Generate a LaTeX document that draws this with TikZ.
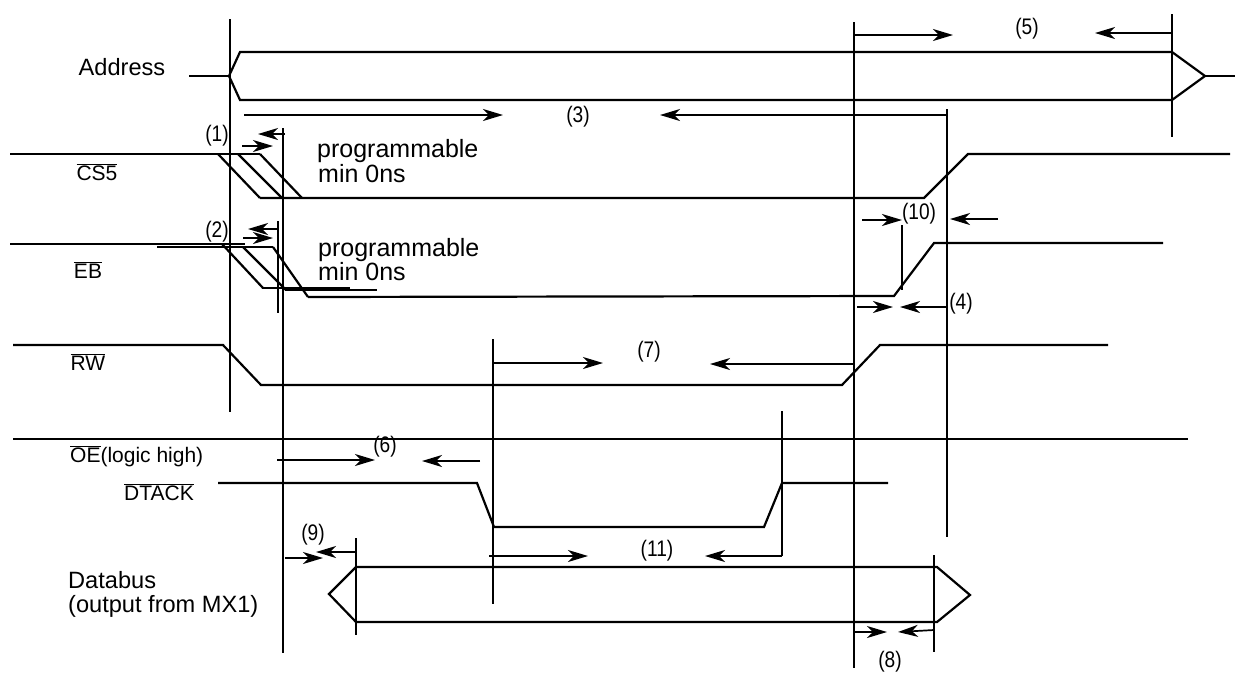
\documentclass[tikz,border=0pt]{standalone}
\usepackage{fontspec}
\setmainfont{Liberation Sans}
\usetikzlibrary{arrows.meta}
\newcommand\ovl[1]{$\overline{\hbox{#1}}$}
\newcommand\nrw[1]{\scalebox{0.85}[1]{#1}}
\begin{document}
\begin{tikzpicture}[x=1pt,y=-1pt,
 sig/.style={line width=2.2pt, line join=miter},
 dimline/.style={line width=1.7pt},
 arr/.style={dimline,-{Stealth[length=20pt,width=12pt,inset=6pt]}},
 big/.style={font=\fontsize{23.6}{27}\selectfont, inner sep=0pt},
 sname/.style={font=\fontsize{21}{25}\selectfont, inner sep=0pt},
 num/.style={font=\fontsize{22.5}{26}\selectfont, inner sep=0pt},
 prog/.style={font=\fontsize{25}{28}\selectfont, inner sep=0pt, anchor=base west}]
\useasboundingbox (0,0) rectangle (1235,673);
\fill[white] (0,0) rectangle (1235,673);

% ---------- labels ----------
\node[big] (addr) at (122,67) {Address};
\node[big,anchor=west] (db1) at (68,580) {Databus};
\node[big,anchor=west] (db2) at (68,606) {(output from MX1)};
\node[sname] (cs5) at (97,172) {\ovl{CS5}};
\node[sname] (eb) at (88,270) {\ovl{EB}};
\node[sname] (rw) at (88,362) {\ovl{RW}};
\node[sname,anchor=west] (oe) at (70,456) {\ovl{OE}(logic high)};
\node[sname] (dtack) at (159,492) {\ovl{DTACK}};
\node[prog] (p1a) at (317,157) {programmable};
\node[prog] (p1b) at (318,182) {min 0ns};
\node[prog] (p2a) at (318,256) {programmable};
\node[prog] (p2b) at (318,280) {min 0ns};

\node[num] (n1) at (217,136) {\nrw{(1)}};
\node[num] (n2) at (217,232) {\nrw{(2)}};
\node[num] (n3) at (578,117) {\nrw{(3)}};
\node[num] (n4) at (961,304) {\nrw{(4)}};
\node[num] (n5) at (1027,29) {\nrw{(5)}};
\node[num] (n6) at (385,447) {\nrw{(6)}};
\node[num] (n7) at (649,352) {\nrw{(7)}};
\node[num] (n8) at (890,662) {\nrw{(8)}};
\node[num] (n9) at (313,535) {\nrw{(9)}};
\node[num] (n10) at (919,214) {\nrw{(10)}};
\node[num] (n11) at (657,551) {\nrw{(11)}};

% ---------- vertical reference lines ----------
\draw[dimline] (230,19) -- (230,412);
\draw[dimline] (283,128) -- (283,653);
\draw[dimline] (278,221) -- (278,313);
\draw[dimline] (854,22) -- (854,668);
\draw[dimline] (947,109) -- (947,537);
\draw[dimline] (1172,14) -- (1172,137);
\draw[dimline] (493,339) -- (493,604);
\draw[dimline] (356,538) -- (356,635);
\draw[dimline] (934,555) -- (934,652);
\draw[dimline] (902,225) -- (902,290);

% ---------- Address ----------
\draw[sig] (189,76) -- (229,76);
\draw[sig] (229,76) -- (240,52) -- (1172,52) -- (1205,76) -- (1172,100) -- (240,100) -- cycle;
\draw[sig] (1205,76) -- (1235,76);

% ---------- CS5 ----------
\draw[sig] (10,154) -- (260,154);
\draw[sig] (218,154) -- (260,198);
\draw[sig] (238,154) -- (282,198);
\draw[sig] (260,154) -- (302,198);
\draw[sig] (260,198) -- (924,198) -- (968,154) -- (1230,154);

% ---------- EB ----------
\draw[sig] (10,244) -- (245,244);
\draw[sig] (157,247) -- (273,247);
\draw[sig] (222,244) -- (263,288);
\draw[sig] (243,247) -- (286,290);
\draw[sig] (273,247) -- (308,297);
\draw[sig] (262,288) -- (350,288);
\draw[sig] (285,290) -- (377,290);
\draw[sig] (308,297) -- (894,296) -- (934,243) -- (1163,243);

% ---------- RW ----------
\draw[sig] (13,345) -- (223,345) -- (261,385) -- (842,385) -- (880,345) -- (1108,345);

% ---------- OE ----------
\draw[sig] (13,439) -- (1188,439);

% ---------- DTACK ----------
\draw[sig] (218,483) -- (477,483) -- (494,527) -- (764,527) -- (782,483) -- (888,483);

% ---------- Databus ----------
\draw[sig] (329,594) -- (356,567) -- (937,567) -- (970,595) -- (937,622) -- (356,622) -- cycle;

% ---------- dimension arrows ----------
% (1)
\draw[arr] (285,134) -- (258,134);
\draw[arr] (242,146) -- (273,146);
% (2)
\draw[arr] (278,229) -- (248,229);
\draw[arr] (243,238) -- (273,238);
% (3)
\draw[arr] (244,115) -- (503,115);
\draw[arr] (947,115) -- (660,115);
% (4)
\draw[arr] (857,307) -- (893,307);
\draw[arr] (947,307) -- (900,307);
% (5)
\draw[arr] (854,35) -- (953,35);
\draw[arr] (1172,33) -- (1095,33);
% (6)
\draw[arr] (277,460) -- (375,460);
\draw[arr] (480,461) -- (422,461);
% (7)
\draw[arr] (493,363) -- (603,363);
\draw[arr] (854,364) -- (710,364);
% (8)
\draw[arr] (854,632) -- (887,632);
\draw[arr] (934,630) -- (898,632);
% (9)
\draw[arr] (285,558) -- (323,558);
\draw[arr] (356,552) -- (316,552);
% (10)
\draw[arr] (862,220) -- (902,220);
\draw[arr] (998,219) -- (950,219);
% (11)
\draw[arr] (489,556) -- (588,556);
\draw[dimline] (782,411) -- (782,556);
\draw[arr] (782,556) -- (705,556);
\end{tikzpicture}
\end{document}
